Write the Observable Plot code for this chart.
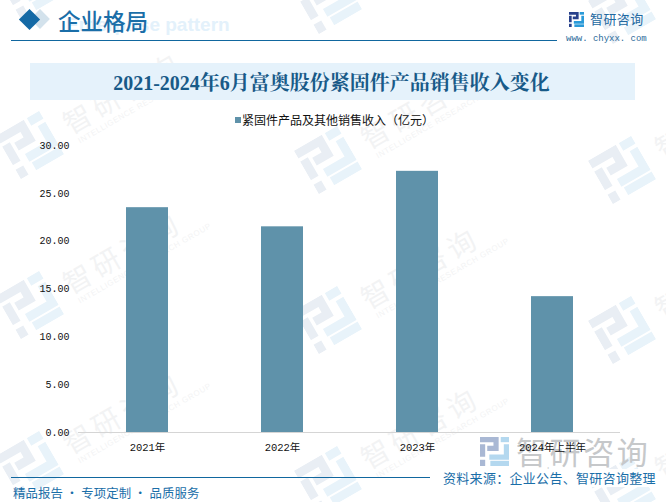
<!DOCTYPE html>
<html><head><meta charset="utf-8">
<script src="https://cdn.jsdelivr.net/npm/d3@7"></script>
<script src="https://cdn.jsdelivr.net/npm/@observablehq/plot@0.6"></script>
<style>
html,body{margin:0;padding:0;background:#fff}
#page{position:relative;width:666px;height:502px;overflow:hidden;font-family:"Noto Sans CJK SC","Noto Sans",sans-serif;text-spacing-trim:space-all}
#page>*{position:absolute}
.wm{position:absolute;color:#8a9098;opacity:.1;transform:rotate(-30deg);transform-origin:left top;white-space:nowrap}
.wm b{display:block;font-size:28px;font-weight:400;letter-spacing:5px;line-height:34px}
.wm i{display:block;font:normal 8px/10px "Liberation Sans";letter-spacing:.6px;margin-left:4px}
.lg{position:absolute;transform:rotate(-30deg);width:50px;height:50px}
#chart{left:0;top:0;z-index:2}
#chart svg{background:transparent;display:block}
.a{fill:var(--a)} .b{fill:var(--b)}
path.a{fill:none;stroke:var(--a)} path.b{fill:none;stroke:var(--b)}
</style></head><body>
<svg width="0" height="0" style="position:absolute"><defs>
 <g id="mk">
  <path class="a" d="M0 2.5H15.5V11H7M2.5 7V19" stroke-width="5"/>
  <rect class="a" x="0" y="22" width="5" height="6"/>
  <rect class="b" x="20" y="0" width="8" height="5"/>
  <path class="b" d="M25.5 7V19.5H9" stroke-width="5"/>
  <rect class="b" x="10" y="23" width="18" height="5"/>
 </g>
</defs></svg>
<div id="page">
 <div id="wms"></div>
 <div style="left:33px;top:12px;width:14px;height:14px;background:#d3e2ec;transform:rotate(45deg)"></div>
 <div style="left:22px;top:12px;width:15px;height:15px;background:#1469a5;transform:rotate(45deg)"></div>
 <div style="left:66px;top:14px;font:bold 19px 'Liberation Sans';color:#e3f1fb;white-space:nowrap">Enterprise pattern</div>
 <div style="left:58px;top:4px;font-size:22.5px;font-weight:500;color:#1a6ea8;line-height:32px;white-space:nowrap">企业格局</div>
 <div style="left:11px;top:40px;width:546px;height:1px;background:#11679f"></div>
 <div style="left:30px;top:63px;width:605px;height:37px;background:#e5f2fb"></div>
 <div style="left:29px;top:63px;width:605px;line-height:40px;text-align:center;font-family:'Liberation Serif','Noto Serif CJK SC','Noto Sans CJK SC';font-weight:700;font-size:20px;color:#185a88;white-space:nowrap">2021-2024年6月富奥股份紧固件产品销售收入变化</div>
 <div style="left:235px;top:117px;width:6px;height:6px;background:#5f92aa"></div>
 <div style="left:242px;top:111px;font-size:12px;line-height:18px;color:#111;white-space:nowrap">紧固件产品及其他销售收入（亿元）</div>
 <div id="chart"></div>
 <svg style="left:569px;top:12px;--a:#27408b;--b:#2a9ad8" width="15" height="15" viewBox="0 0 28 28"><use href="#mk"/></svg>
 <div style="left:590px;top:9px;font-size:13px;line-height:20px;color:#2268a0;letter-spacing:.4px;white-space:nowrap">智研咨询</div>
 <div style="left:566px;top:32px;font:9px/14px 'Liberation Mono';color:#2a6a9a;white-space:nowrap;letter-spacing:-.02px">www. chyxx. com</div>
 <div style="left:11px;top:477px;width:419px;height:1px;background:#11679f"></div>
 <div style="left:13px;top:484px;font-size:12.4px;line-height:18px;color:#1a6ea8;letter-spacing:.1px;white-space:nowrap">精品报告 · 专项定制 · 品质服务</div>
 <svg style="left:480px;top:437px;z-index:1;--a:#a9b8d4;--b:#b4d8ef" width="29" height="29" viewBox="0 0 28 28"><use href="#mk"/></svg>
 <div style="left:516px;top:429px;font-size:31px;line-height:44px;color:#c6c8ca;letter-spacing:2.6px;white-space:nowrap;z-index:1">智研咨询</div>
 <div style="left:483px;top:465px;font:10px/14px 'Liberation Sans';color:#cfd2d4;letter-spacing:7px;white-space:nowrap;z-index:1">www.chyxx.com</div>
 <div style="left:443px;top:469px;font-size:13px;line-height:18px;color:#1a6ea8;white-space:nowrap;z-index:3;letter-spacing:.3px;background:#fff">资料来源：企业公告、智研咨询整理</div>
</div>
<script>
const categories = ["2021年", "2022年", "2023年", "2024年上半年"];
const revenue = [23.5, 21.5, 27.3, 14.2];
const yTicks = [0, 5, 10, 15, 20, 25, 30];
const rows = categories.map((c, i) => ({c, v: revenue[i]}));

const chart = Plot.plot({
  width: 666, height: 502,
  marginLeft: 78, marginRight: 46, marginTop: 145, marginBottom: 70,
  style: {fontFamily: '"Liberation Mono","Noto Sans CJK SC"', fontSize: "10px", color: "#111", background: "transparent"},
  x: {domain: categories, paddingInner: 0.69, paddingOuter: 0.345, label: null},
  y: {domain: [0, 30], label: null},
  marks: [
    Plot.barY(rows, {x: "c", y: "v", fill: "#5f92aa"}),
    Plot.ruleY([0], {stroke: "#d5d5d5"}),
    Plot.axisX({tickSize: 0, tickPadding: 11, fontSize: 10.5, label: null}),
    Plot.axisY({ticks: yTicks, tickSize: 0, tickPadding: 9, label: null, tickFormat: d => d.toFixed(2)})
  ]
});
document.getElementById("chart").append(chart);

// faint brand watermark tiled across the page: logo centre per tile
const wms = document.getElementById("wms");
const cols = [[30, -15], [328, 0], [622, 10]];
const rowsY = [0, 160, 320, 480];
for (const [cx, y0] of cols) for (const dy of rowsY) {
  const cy = y0 + dy;
  const logo = document.createElement("div");
  logo.className = "lg";
  logo.style.cssText = `left:${cx - 25}px;top:${cy - 25}px;--a:#e9eef4;--b:#e8f3fa`;
  logo.innerHTML = '<svg width="50" height="50" viewBox="0 0 28 28"><use href="#mk"/></svg>';
  wms.append(logo);
  const d = document.createElement("div");
  d.className = "wm";
  d.style.left = (cx + 26) + "px";
  d.style.top = (cy - 35) + "px";
  d.innerHTML = "<b>智研咨询</b><i>INTELLIGENCE RESEARCH GROUP</i>";
  wms.append(d);
}
</script>
</body></html>
